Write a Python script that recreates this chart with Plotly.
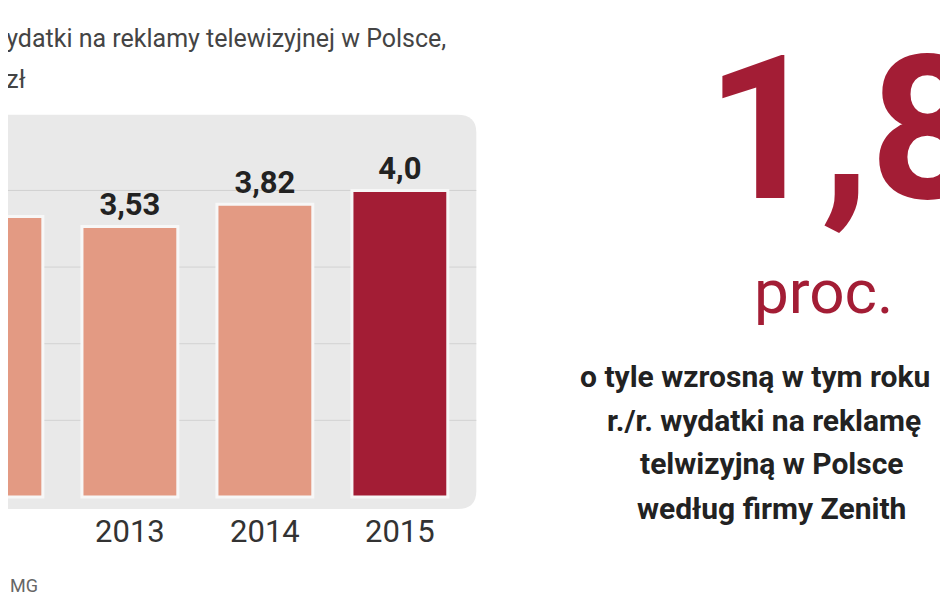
import plotly.graph_objects as go

years = ["2012", "2013", "2014", "2015"]
values = [3.66, 3.53, 3.82, 4.0]
value_labels = ["3,66", "3,53", "3,82", "4,0"]
bar_colors = ["#E39A83", "#E39A83", "#E39A83", "#A31D35"]
gridlines = [1, 2, 3, 4]

W, H = 948, 593
x_idx = list(range(len(years)))

fig = go.Figure()

# grey rounded panel behind the bars
fig.add_shape(type="path", xref="paper", yref="paper", layer="below",
              path="M -0.02 0.155 L 0.474 0.155 Q 0.494 0.155 0.494 0.185 L 0.494 0.79 "
                   "Q 0.494 0.82 0.474 0.82 L -0.02 0.82 Z",
              fillcolor="#E9E9E9", line=dict(width=0))

for g in gridlines:
    fig.add_shape(type="line", xref="paper", yref="y", x0=0, x1=0.494, y0=g, y1=g,
                  line=dict(color="#D2D2D2", width=1), layer="below")

fig.add_trace(go.Bar(
    x=x_idx, y=values, width=0.71,
    marker=dict(color=bar_colors, line=dict(color="#F7F7F7", width=3)),
    text=["<b>%s</b>" % t for t in value_labels], textposition="outside",
    textfont=dict(family="Roboto", size=31, color="#222"),
    cliponaxis=False, hoverinfo="skip",
))

fig.update_xaxes(domain=[0, 468 / W], range=[0.097, 3.564], tickvals=x_idx, ticktext=years,
                 tickfont=dict(family="Roboto", size=31, color="#333"),
                 showgrid=False, zeroline=False, showline=False, ticks="", ticklen=0)
fig.update_yaxes(domain=[(H - 502) / H, (H - 102) / H], range=[-0.17, 5.05],
                 visible=False, showgrid=False)

ann = [
    dict(text="Wydatki na reklamy telewizyjnej w Polsce,", x=440, y=30, xanchor="right",
         size=25, color="#444", family="Roboto"),
    dict(text="mld zł", x=20, y=72, xanchor="right", size=25, color="#444", family="Roboto"),
    dict(text="Źródło: MG", x=32, y=577, xanchor="right", size=18, color="#666", family="Roboto"),
    dict(text="<b>1,8</b>", x=696, y=122, xanchor="left", size=200, color="#A31D35",
         family="Roboto"),
    dict(text="proc.", x=815, y=283, xanchor="center", size=62, color="#A31D35",
         family="Roboto"),
    dict(text="<b>o tyle wzrosną w tym roku</b>", x=570, y=368, xanchor="left", size=30,
         color="#222", family="Roboto"),
    dict(text="<b>r./r. wydatki na reklamę</b>", x=597, y=412, xanchor="left", size=30,
         color="#222", family="Roboto"),
    dict(text="<b>telwizyjną w Polsce</b>", x=630, y=456, xanchor="left", size=30,
         color="#222", family="Roboto"),
    dict(text="<b>według firmy Zenith</b>", x=627, y=500, xanchor="left", size=30,
         color="#222", family="Roboto"),
]
for a in ann:
    fig.add_annotation(text=a["text"], x=a["x"] / W, y=1 - a["y"] / H, xref="paper",
                       yref="paper", xanchor=a["xanchor"], yanchor="middle", showarrow=False,
                       font=dict(family=a["family"], size=a["size"], color=a["color"]))

fig.update_layout(width=W, height=H, margin=dict(l=0, r=0, t=0, b=0),
                  paper_bgcolor="white", plot_bgcolor="rgba(0,0,0,0)",
                  showlegend=False, bargap=0.3)

fig.write_html("out.html")
